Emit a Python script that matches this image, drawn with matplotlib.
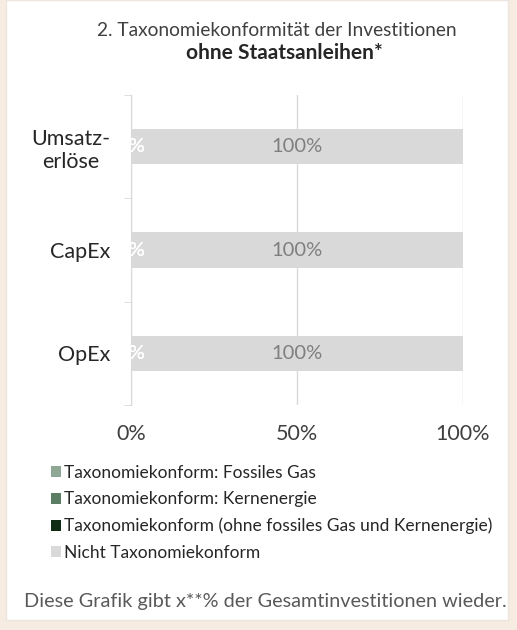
#! /usr/bin/env python3
# coding: utf-8

"""
    Taxonomiekonformität der Investitionen ohne Staatsanleihen
    - barres horizontales empilées (Umsatzerlöse, CapEx, OpEx)
"""

import numpy as np
import matplotlib
matplotlib.use("Agg")
import matplotlib.pyplot as plt
from matplotlib.patches import Rectangle


########################################################################################################################
#             Données                                                                                                  #
########################################################################################################################
kategorien = ["Umsatz-\nerlöse", "CapEx", "OpEx"]
fossiles_gas = [0, 0, 0]
kernenergie = [0, 0, 0]
taxonomiekonform = [0, 0, 0]
nicht_konform = [100, 100, 100]

serien = ["Taxonomiekonform: Fossiles Gas",
          "Taxonomiekonform: Kernenergie",
          "Taxonomiekonform (ohne fossiles Gas und Kernenergie)",
          "Nicht Taxonomiekonform"]
farben = ["#8fa896", "#5a7d63", "#0f2a15", "#d9d9d9"]
x_ticks = [0, 50, 100]


plt.rcParams['font.family'] = ['Lato', 'DejaVu Sans']

fig = plt.figure(figsize=(5.17, 6.30), dpi=100)
fig.patch.set_facecolor("#f6ece1")

# panneau blanc
fig.patches.append(Rectangle((6 / 517, 10 / 630), 502 / 517, 620 / 630, transform=fig.transFigure,
                             facecolor="white", edgecolor="#ece6df", lw=1, zorder=-10))

ax = fig.add_axes([131 / 517, 1 - 405 / 630, 332 / 517, 310 / 630])
ax.set_facecolor("none")

y = np.arange(len(kategorien))
gauche = np.zeros(len(kategorien))
for nom, valeurs, c in zip(serien, [fossiles_gas, kernenergie, taxonomiekonform, nicht_konform], farben):
    barres = ax.barh(y, valeurs, left=gauche, height=0.34, color=c, label=nom, zorder=2)
    couleur_txt = "white" if c != "#d9d9d9" else "#7f7f7f"
    ax.bar_label(barres, labels=["{}%".format(v) for v in valeurs], label_type="center",
                 color=couleur_txt, fontsize=14.5, zorder=3)
    gauche += np.array(valeurs)

ax.set_ylim(2.5, -0.5)
ax.set_xlim(0, 100)
ax.set_yticks(y)
ax.set_yticklabels(kategorien, fontsize=15.5, color="#262626", multialignment="center")
ax.set_yticks([-0.5, 0.5, 1.5, 2.5], minor=True)
ax.tick_params(axis="y", which="major", length=0, pad=15)
ax.tick_params(axis="y", which="minor", length=5, color="#d9d9d9")
ax.set_xticks(x_ticks)
ax.set_xticklabels(["{}%".format(t) for t in x_ticks], fontsize=15.5, color="#404040")
ax.tick_params(axis="x", length=0, pad=14)
ax.grid(axis="x", color="#d9d9d9", lw=1, zorder=1)
for s in ["top", "right", "bottom"]:
    ax.spines[s].set_visible(False)
ax.spines["left"].set_color("#d9d9d9")

# titre
fig.text(0.535, 1 - 31 / 630, "2. Taxonomiekonformität der Investitionen", ha="center", va="center",
         fontsize=13.8, color="#404040")
fig.text(0.55, 1 - 53 / 630, "ohne Staatsanleihen*", ha="center", va="center",
         fontsize=15, color="#262626", fontweight="bold")

# légende
leg = fig.legend(loc="upper left", bbox_to_anchor=(44 / 517, 1 - 458 / 630), frameon=False,
                 fontsize=12.5, handlelength=0.6, handleheight=0.6, handletextpad=0.15,
                 labelspacing=0.6, borderaxespad=0)
for t in leg.get_texts():
    t.set_color("#262626")

fig.text(265 / 517, 1 - 601 / 630, "Diese Grafik gibt x**% der Gesamtinvestitionen wieder.",
         ha="center", va="center", fontsize=14.3, color="#595959")

plt.savefig("out.png", dpi=100, facecolor=fig.get_facecolor())
